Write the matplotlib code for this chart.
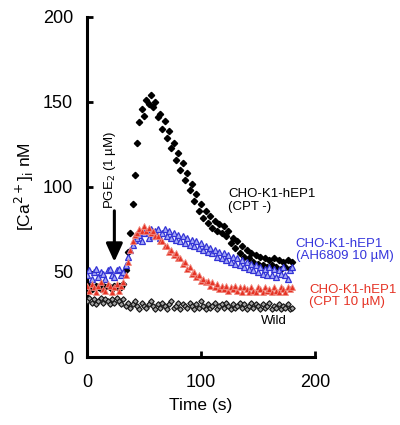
import numpy as np
import matplotlib
matplotlib.use('Agg')
import matplotlib.pyplot as plt

plt.rcParams['font.family'] = ['Liberation Sans', 'DejaVu Sans']

# time axis, one reading every 2 s
time = np.arange(0, 181, 2)

# CHO-K1-hEP1 (CPT -)
ca_cpt_minus = [41, 42, 40, 41, 42, 41, 40, 42, 41, 42,
                41, 40, 42, 41, 42, 41, 43, 51, 62, 73,
                90, 107, 126, 138, 146, 142, 151, 149, 154, 147,
                150, 141, 143, 134, 139, 129, 133, 123, 126, 116,
                120, 110, 114, 104, 108, 98, 102, 92, 96, 86,
                90, 82, 86, 79, 83, 76, 80, 74, 78, 73,
                77, 71, 74, 67, 70, 64, 68, 61, 65, 59,
                63, 58, 61, 56, 60, 55, 59, 54, 58, 53,
                57, 54, 58, 53, 57, 52, 56, 53, 57, 52,
                56]

# CHO-K1-hEP1 (AH6809 10 uM)
ca_ah6809 = [48, 51, 46, 50, 52, 47, 50, 49, 46, 51,
             52, 48, 47, 51, 52, 48, 50, 54, 59, 63,
             66, 69, 70, 72, 68, 73, 74, 70, 75, 71,
             74, 75, 70, 73, 75, 71, 74, 70, 73, 69,
             72, 68, 71, 67, 70, 66, 69, 65, 68, 64,
             67, 63, 65, 62, 64, 61, 63, 59, 62, 58,
             61, 57, 60, 56, 59, 55, 58, 54, 57, 53,
             56, 52, 55, 51, 54, 50, 53, 49, 52, 48,
             53, 48, 52, 47, 51, 49, 53, 48, 46, 51,
             53]

# CHO-K1-hEP1 (CPT 10 uM)
ca_cpt10 = [42, 39, 43, 41, 38, 42, 44, 40, 39, 43,
            42, 38, 41, 43, 39, 42, 44, 48, 56, 63,
            68, 72, 73, 75, 74, 77, 74, 76, 73, 74,
            71, 71, 68, 68, 65, 65, 62, 63, 60, 61,
            58, 58, 55, 56, 52, 53, 49, 50, 47, 48,
            45, 46, 44, 45, 42, 44, 41, 43, 40, 42,
            40, 42, 39, 41, 40, 42, 39, 41, 38, 41,
            40, 38, 41, 39, 38, 41, 40, 38, 41, 39,
            40, 38, 41, 39, 38, 41, 40, 38, 41, 40,
            41]

# Wild
ca_wild = [33, 35, 32, 34, 31, 33, 35, 32, 34, 33,
           31, 34, 32, 35, 33, 31, 34, 30, 32, 29,
           31, 33, 30, 28, 32, 30, 29, 31, 33, 30,
           28, 31, 29, 32, 30, 28, 31, 33, 29, 30,
           32, 28, 31, 30, 29, 32, 30, 28, 31, 29,
           33, 30, 28, 31, 29, 30, 32, 28, 30, 31,
           29, 32, 30, 28, 31, 29, 30, 32, 29, 31,
           28, 30, 32, 29, 31, 30, 28, 31, 29, 30,
           32, 28, 30, 29, 31, 28, 30, 29, 31, 28,
           29]

fig = plt.figure(figsize=(4, 4.25), dpi=100)
ax = fig.add_axes([0.2175, 0.16, 0.57, 0.80])

ax.plot(time, ca_cpt_minus, linestyle='none', marker='D', ms=3.2,
        mfc='black', mec='black', zorder=2)
ax.plot(time, ca_wild, linestyle='none', marker='D', ms=2.8,
        mfc='#a0a0a0', mec='#111111', mew=0.8, zorder=3)
ax.plot(time, ca_ah6809, linestyle='none', marker='^', ms=3.8,
        mfc='#a8acf5', mec='#3333d6', mew=0.9, zorder=4)
ax.plot(time, ca_cpt10, linestyle='none', marker='^', ms=3.8,
        mfc='#e53325', mec='#f08a80', mew=0.6, zorder=5)

# stimulus arrow
ax.annotate('', xy=(24, 56), xytext=(24, 86),
            arrowprops=dict(arrowstyle='-|>,head_length=1.1,head_width=0.5',
                            lw=2.2, color='black', shrinkA=0, shrinkB=0))
ax.text(20, 110, 'PGE$_2$ (1 µM)', rotation=90, ha='center', va='center',
        fontsize=9.5)

ax.text(124, 92, 'CHO-K1-hEP1\n(CPT -)', fontsize=9.5, va='center',
        linespacing=1.05, color='black')
ax.text(183, 63, 'CHO-K1-hEP1\n(AH6809 10 µM)', fontsize=9.5, va='center',
        linespacing=1.05, color='#3535dc', clip_on=False)
ax.text(195, 36, 'CHO-K1-hEP1\n(CPT 10 µM)', fontsize=9.5, va='center',
        linespacing=1.05, color='#e53325', clip_on=False)
ax.text(153, 21, 'Wild', fontsize=9.5, va='center', color='black')

ax.set_xlim(0, 200)
ax.set_ylim(0, 200)
ax.set_xticks([0, 100, 200])
ax.set_yticks([0, 50, 100, 150, 200])
ax.tick_params(direction='in', length=4, width=2, labelsize=13)
ax.tick_params(axis='x', pad=12)
ax.tick_params(axis='y', pad=10)
for s in ['top', 'right']:
    ax.spines[s].set_visible(False)
for s in ['left', 'bottom']:
    ax.spines[s].set_linewidth(2.2)

ax.set_xlabel('Time (s)', fontsize=12.5, labelpad=5)
ax.set_ylabel('[Ca$^{2+}$]$_\\mathrm{i}$ nM', fontsize=12.5, labelpad=5)

plt.savefig('out.png', dpi=100)
